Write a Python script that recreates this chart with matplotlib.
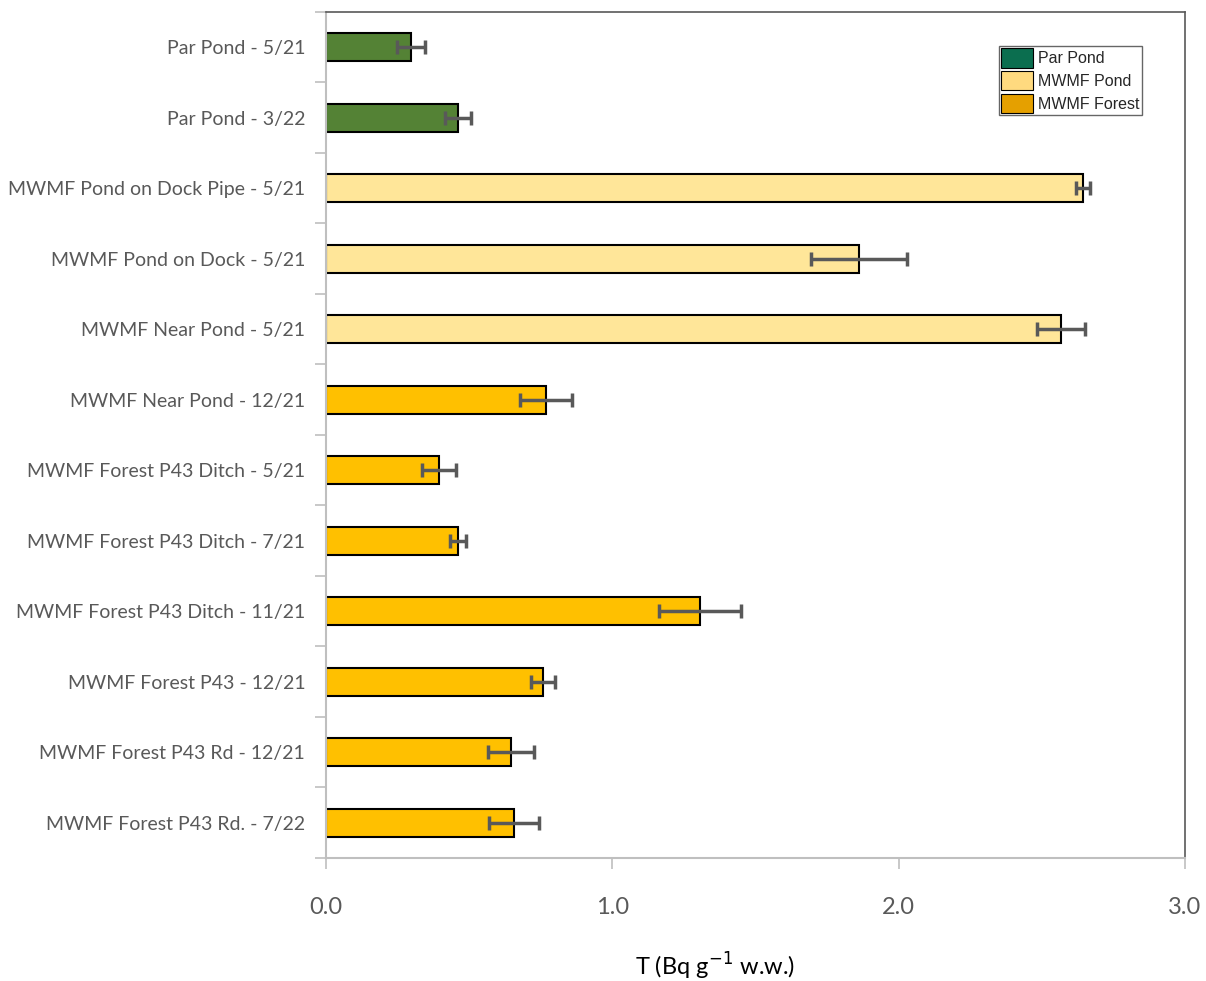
import matplotlib.pyplot as plt
from matplotlib.patches import Patch

plt.rcParams['font.family'] = ['Lato', 'DejaVu Sans']

sites = ['Par Pond - 5/21', 'Par Pond - 3/22', 'MWMF Pond on Dock Pipe - 5/21',
         'MWMF Pond on Dock - 5/21', 'MWMF Near Pond - 5/21', 'MWMF Near Pond - 12/21',
         'MWMF Forest P43 Ditch - 5/21', 'MWMF Forest P43 Ditch - 7/21',
         'MWMF Forest P43 Ditch - 11/21', 'MWMF Forest P43 - 12/21',
         'MWMF Forest P43 Rd - 12/21', 'MWMF Forest P43 Rd. - 7/22']
tritium = [0.297, 0.461, 2.644, 1.862, 2.567, 0.768, 0.395, 0.461, 1.306, 0.758, 0.646, 0.657]
errors = [0.050, 0.045, 0.025, 0.168, 0.084, 0.092, 0.060, 0.028, 0.143, 0.042, 0.080, 0.087]
groups = ['par', 'par', 'pond', 'pond', 'pond', 'forest', 'forest', 'forest',
          'forest', 'forest', 'forest', 'forest']

bar_colors = {'par': '#548235', 'pond': '#FFE699', 'forest': '#FFC000'}
legend_labels = ['Par Pond', 'MWMF Pond', 'MWMF Forest']
legend_colors = ['#0B6E4F', '#FFDA7F', '#E5A000']

fig = plt.figure(figsize=(12.06, 9.81), dpi=100)
ax = fig.add_axes([0.2703, 0.1254, 0.7123, 0.8624])

ypos = list(range(len(sites)))
ax.barh(ypos, tritium, height=0.4, color=[bar_colors[g] for g in groups],
        edgecolor='black', linewidth=1.5, zorder=2)
ax.errorbar(tritium, ypos, xerr=errors, fmt='none', ecolor='#595959',
            elinewidth=2.5, capsize=5, capthick=2.5, zorder=3)

ax.set_ylim(len(sites) - 0.5, -0.5)
ax.set_xlim(0, 3.0)
ax.set_yticks(ypos)
ax.set_yticklabels(sites)
ax.set_yticks([i + 0.5 for i in range(-1, len(sites))], minor=True)
ax.set_xticks([0.0, 1.0, 2.0, 3.0])
ax.set_xticklabels(['0.0', '1.0', '2.0', '3.0'])

ax.tick_params(axis='y', which='major', length=0, pad=15, labelsize=14, labelcolor='#595959')
ax.tick_params(axis='y', which='minor', length=8, color='#BFBFBF', width=1.2)
ax.tick_params(axis='x', length=8, color='#BFBFBF', width=1.2, pad=20,
               labelsize=17, labelcolor='#595959')

for side in ['left', 'bottom']:
    ax.spines[side].set_color('#BFBFBF')
    ax.spines[side].set_linewidth(1.5)
for side in ['top', 'right']:
    ax.spines[side].set_color('#595959')
    ax.spines[side].set_linewidth(1.2)

fig.text(715 / 1206, 1 - 966 / 981, 'T (Bq g$^{-1}$ w.w.)', ha='center', va='center',
         fontsize=17, color='black', math_fontfamily='dejavusans')

handles = [Patch(facecolor=c, edgecolor='black', linewidth=0.8) for c in legend_colors]
leg = ax.legend(handles, legend_labels, loc='upper right', bbox_to_anchor=(0.950, 0.960),
                frameon=True, fancybox=False, edgecolor='#404040',
                handlelength=2.0, handleheight=1.5, handletextpad=0.3, labelspacing=0.2,
                borderpad=0.15, borderaxespad=0,
                prop={'family': ['Liberation Sans', 'DejaVu Sans'], 'size': 11.5})
leg.get_frame().set_linewidth(1.0)
for t in leg.get_texts():
    t.set_color('#262626')

fig.savefig('out.png', dpi=100)
